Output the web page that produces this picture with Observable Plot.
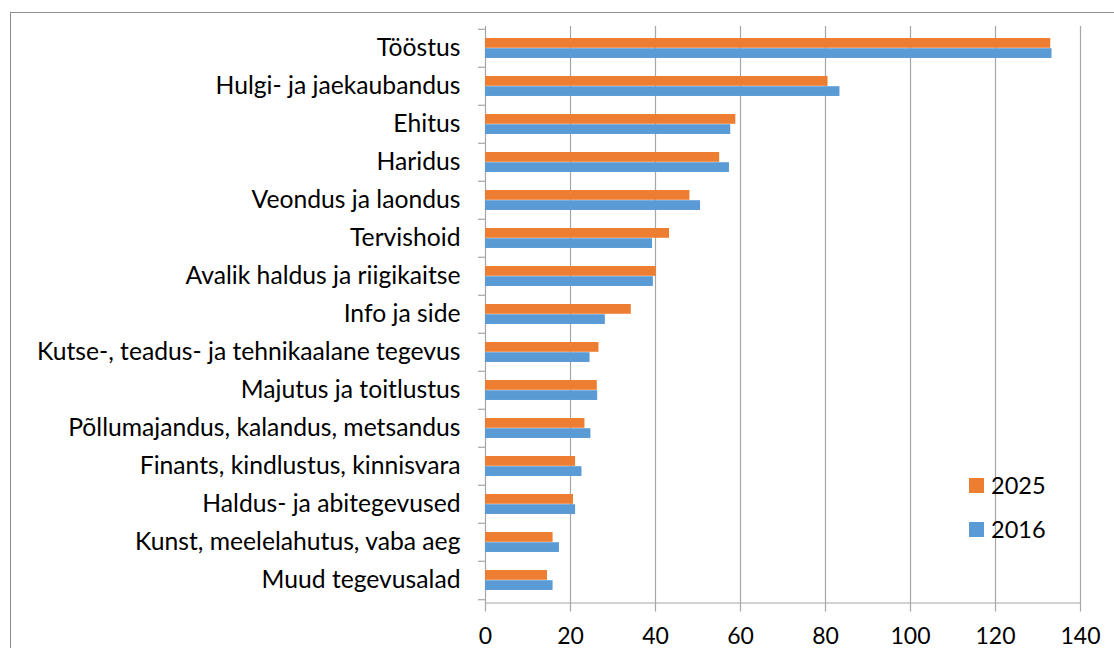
<!DOCTYPE html>
<html>
<head>
<meta charset="utf-8">
<script src="https://cdn.jsdelivr.net/npm/d3@7"></script>
<script src="https://cdn.jsdelivr.net/npm/@observablehq/plot@0.6"></script>
<style>
  html, body { margin: 0; padding: 0; background: #fff; overflow: hidden; }
  #wrap { position: relative; width: 1114px; height: 648px; overflow: hidden; font-family: Lato, "DejaVu Sans", sans-serif; }
  #border { position: absolute; left: 10px; top: 12px; width: 1200px; height: 800px; border: 1.5px solid #8c8c8c; box-sizing: border-box; }
  #chart { position: absolute; left: 0; top: 0; }
  .leg { position: absolute; display: flex; align-items: center; font-size: 23.5px; color: #000; }
  .leg span.sw { display: inline-block; width: 15px; height: 15px; margin-right: 7px; }
</style>
</head>
<body>
<div id="wrap">
  <div id="border"></div>
  <div id="chart"></div>
  <div class="leg" style="left:969px; top:471px;"><span class="sw" style="background:#ED7D31"></span>2025</div>
  <div class="leg" style="left:969px; top:515px;"><span class="sw" style="background:#5B9BD5"></span>2016</div>
</div>
<script>
const categories = [
  "Tööstus",
  "Hulgi- ja jaekaubandus",
  "Ehitus",
  "Haridus",
  "Veondus ja laondus",
  "Tervishoid",
  "Avalik haldus ja riigikaitse",
  "Info ja side",
  "Kutse-, teadus- ja tehnikaalane tegevus",
  "Majutus ja toitlustus",
  "Põllumajandus, kalandus, metsandus",
  "Finants, kindlustus, kinnisvara",
  "Haldus- ja abitegevused",
  "Kunst, meelelahutus, vaba aeg",
  "Muud tegevusalad"
];
const values2025 = [133.0, 80.6, 58.9, 55.1, 48.1, 43.3, 40.2, 34.3, 26.7, 26.3, 23.4, 21.2, 20.7, 15.9, 14.6];
const values2016 = [133.3, 83.4, 57.7, 57.4, 50.6, 39.3, 39.5, 28.2, 24.6, 26.4, 24.8, 22.7, 21.2, 17.4, 15.9];
const xTicks = [0, 20, 40, 60, 80, 100, 120, 140];

const rows2025 = categories.map((c, i) => ({category: c, value: values2025[i]}));
const rows2016 = categories.map((c, i) => ({category: c, value: values2016[i]}));

const W = 1114, H = 648;
const mTop = 26, mBottom = 45.5, mLeft = 485, mRight = 34;
const step = (H - mTop - mBottom) / categories.length;
const barH = step * 0.265;
const gap = (step - 2 * barH) / 2;
const grid = "#a6a6a6";

const chart = Plot.plot({
  width: W,
  height: H,
  marginTop: mTop,
  marginBottom: mBottom,
  marginLeft: mLeft,
  marginRight: mRight,
  style: {fontFamily: "Lato, 'DejaVu Sans', sans-serif", fontSize: "24.7px", color: "#000", background: "transparent", overflow: "visible"},
  x: {domain: [0, 140], label: null},
  y: {domain: categories, padding: 0, label: null},
  marks: [
    Plot.ruleX(xTicks, {stroke: grid, strokeWidth: 1.2}),
    Plot.barX(rows2025, {x: "value", y: "category", fill: "#ED7D31", insetTop: gap, insetBottom: step - gap - barH}),
    Plot.barX(rows2016, {x: "value", y: "category", fill: "#5B9BD5", insetTop: gap + barH, insetBottom: gap}),
    Plot.frame({anchor: "bottom", stroke: grid, strokeWidth: 1.2}),
    Plot.axisX({ticks: xTicks, tickSize: 9, tickPadding: 16, fontSize: 23, stroke: grid, strokeWidth: 1.2, fill: "#000", label: null}),
    Plot.axisY({ticks: categories, tickSize: 7, tickFormat: () => "", dy: -step / 2, stroke: grid, strokeWidth: 1.2, label: null}),
    Plot.axisY({ticks: categories.slice(-1), tickSize: 7, tickFormat: () => "", dy: step / 2, stroke: grid, strokeWidth: 1.2, label: null}),
    Plot.axisY({ticks: categories, tickSize: 0, tickPadding: 25, fontSize: 24.7, fill: "#000", label: null})
  ]
});
document.getElementById("chart").appendChild(chart);
</script>
</body>
</html>
